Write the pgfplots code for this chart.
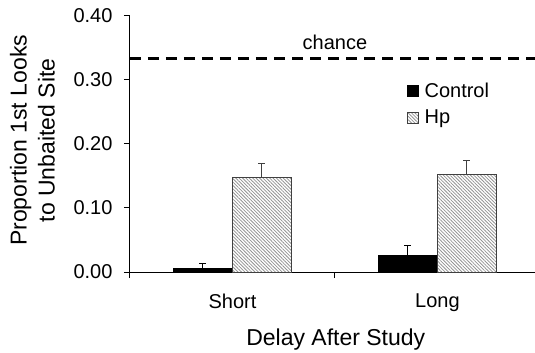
\documentclass[border=0pt]{standalone}
\usepackage{pgfplots}
\pgfplotsset{compat=1.18}
\usepackage{fontspec}
\setmainfont{Liberation Sans}
\usetikzlibrary{patterns.meta}
\pgfplotsset{sqlegend/.style={legend image code/.code={\draw[##1] (0pt,-5.5pt) rectangle (11pt,5.5pt);}}}
\begin{document}
\begin{tikzpicture}
\begin{axis}[
  name=ax,
  scale only axis, width=405pt, height=256pt,
  xmin=-0.5, xmax=1.476, ymin=0, ymax=0.4,
  axis x line=bottom, axis y line=left,
  axis line style={-, line width=1pt},
  tick align=outside,
  every tick/.style={black, line width=1pt},
  major tick length=6pt, minor tick length=6pt,
  xtick={0,1}, xticklabels={Short,Long},
  major x tick style={draw=none},
  minor xtick={-0.5,0.5},
  ytick={0,0.1,0.2,0.3,0.4},
  yticklabel style={/pgf/number format/fixed, /pgf/number format/fixed zerofill, /pgf/number format/precision=2, xshift=-8pt},
  xticklabel style={yshift=-12pt},
  /pgf/number format/assume math mode=true,
  tick label style={font=\fontsize{20}{24}\selectfont},
  xlabel={Delay After Study},
  xlabel style={font=\fontsize{23}{28}\selectfont, at={(axis description cs:0.508,-0.289)}, anchor=base},
  ylabel={Proportion 1st Looks\\to Unbaited Site},
  ylabel style={font=\fontsize{23}{28}\selectfont, align=center, at={(axis description cs:-0.241,0.514)}, anchor=center},
  legend style={draw=none, fill=none, at={(axis description cs:0.675,0.655)}, anchor=west,
    font=\fontsize{20}{24}\selectfont, row sep=7pt, column sep=4pt, legend cell align=left},
  clip=false,
]
\addplot[ybar, bar width=0.288, bar shift=-0.144, fill=black, draw=black, line width=1pt, sqlegend]
  coordinates {(0,0.006) (1,0.026)};
\addlegendentry{Control}
\addplot[ybar, bar width=0.288, bar shift=0.144, draw=black!75, line width=1pt,
  pattern={Lines[angle=-45, distance=2.4pt, line width=0.8pt]}, pattern color=gray!85, sqlegend]
  coordinates {(0,0.147) (1,0.153)};
\addlegendentry{Hp}
% error bars (upper only)
\addplot[forget plot, draw=none, mark=none,
  error bars/.cd, y dir=plus, y explicit, error mark=-,
  error bar style={line width=1pt, draw=black},
  error mark options={rotate=90, line width=1pt, draw=black, mark size=3.5pt}]
  coordinates {(-0.144,0.006) +- (0,0.008) (0.856,0.026) +- (0,0.016)};
\addplot[forget plot, draw=none, mark=none,
  error bars/.cd, y dir=plus, y explicit, error mark=-,
  error bar style={line width=1pt, draw=black!75},
  error mark options={rotate=90, line width=1pt, draw=black!75, mark size=3.5pt}]
  coordinates {(0.144,0.147) +- (0,0.023) (1.144,0.153) +- (0,0.022)};
\addplot[forget plot, sharp plot, black, line width=3pt, dash pattern=on 11pt off 7pt]
  coordinates {(-0.5,0.333) (1.476,0.333)};
\node[font=\fontsize{20}{24}\selectfont, anchor=base] at (axis cs:0.5,0.347) {chance};
\end{axis}
\pgfresetboundingbox
\useasboundingbox ([xshift=-130pt,yshift=-81pt]ax.south west) rectangle ([yshift=16pt]ax.north east);
\end{tikzpicture}
\end{document}
